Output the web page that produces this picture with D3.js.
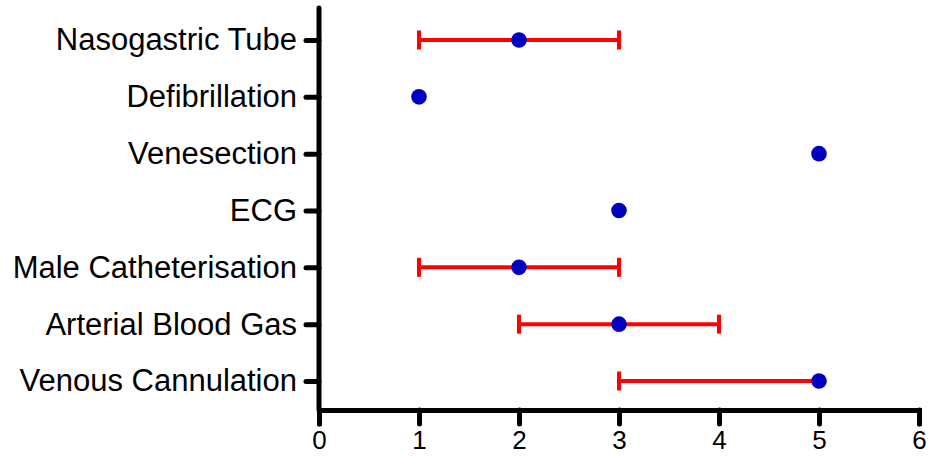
<!DOCTYPE html>
<meta charset="utf-8">
<style>
body { margin: 0; background: #fff; }
.axis text { font-family: "Liberation Sans", Arial, sans-serif; font-size: 31px; fill: #000; }
.axis line, .axis path { stroke: #000; stroke-width: 5px; stroke-linecap: round; }
</style>
<body>
<script src="https://d3js.org/d3.v7.min.js"></script>
<script>

// data, bottom to top
var procedures = ["Venous Cannulation", "Arterial Blood Gas", "Male Catheterisation",
                  "ECG", "Venesection", "Defibrillation", "Nasogastric Tube"];
var medians = [5, 3, 2, 3, 5, 1, 2];
var lows    = [3, 2, 1, 3, 5, 1, 1];
var highs   = [5, 4, 3, 3, 5, 1, 3];
var xTicks  = [0, 1, 2, 3, 4, 5, 6];

var width = 930, height = 456;

var svg = d3.select("body").append("svg")
    .attr("width", width)
    .attr("height", height);

// scales
var x = d3.scaleLinear().domain([0, 6]).range([319, 919]);
var y = d3.scalePoint().domain(procedures).range([381, 40]);

var axisY = 410;

// x axis
svg.append("g")
    .attr("class", "axis")
    .attr("transform", "translate(0," + axisY + ")")
    .call(d3.axisBottom(x)
      .tickValues(xTicks)
      .tickFormat(d3.format("d"))
      .tickSize(14)
      .tickSizeOuter(14))
    .selectAll("text")
      .style("font-size", "26px")
      .attr("y", 39)
      .attr("dy", 0);

// y axis
var gy = svg.append("g")
    .attr("class", "axis")
    .attr("transform", "translate(" + x(0) + ",0)")
    .call(d3.axisLeft(y).tickSize(13).tickPadding(9));
gy.select(".domain").remove();
gy.append("line")
    .attr("x1", 0).attr("x2", 0)
    .attr("y1", 8).attr("y2", axisY);

var rows = procedures.map(function(p, i) {
  return {name: p, mid: medians[i], lo: lows[i], hi: highs[i]};
});

// error bars
var eb = svg.append("g")
    .attr("stroke", "#ff0000")
    .attr("stroke-width", 4);

rows.forEach(function(d) {
  if (d.lo === d.hi) return;
  eb.append("line")
      .attr("x1", x(d.lo)).attr("x2", x(d.hi))
      .attr("y1", y(d.name)).attr("y2", y(d.name));
  if (d.lo !== d.mid)
    eb.append("line")
        .attr("x1", x(d.lo)).attr("x2", x(d.lo))
        .attr("y1", y(d.name) - 9.5).attr("y2", y(d.name) + 9.5);
  if (d.hi !== d.mid)
    eb.append("line")
        .attr("x1", x(d.hi)).attr("x2", x(d.hi))
        .attr("y1", y(d.name) - 9.5).attr("y2", y(d.name) + 9.5);
});

// points
svg.append("g").selectAll("circle")
    .data(rows)
  .enter().append("circle")
    .attr("cx", function(d) { return x(d.mid); })
    .attr("cy", function(d) { return y(d.name); })
    .attr("r", 7.8)
    .attr("fill", "#0000c0");

</script>
</body>
